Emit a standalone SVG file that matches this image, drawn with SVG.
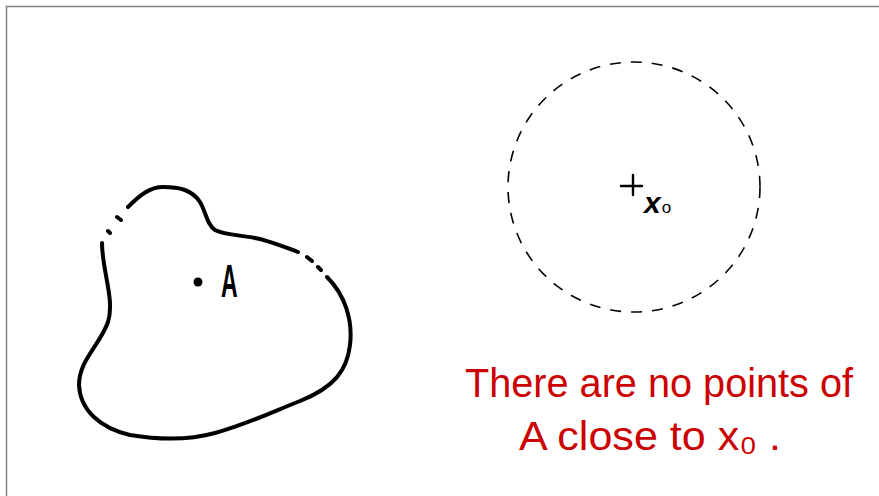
<svg xmlns="http://www.w3.org/2000/svg" width="879" height="496" viewBox="0 0 879 496">
<style>
.frame{fill:none;stroke:#808080;stroke-width:1.5}
.blob{fill:none;stroke:#000;stroke-width:4;stroke-linecap:round;stroke-linejoin:round}
.ball{fill:none;stroke:#000;stroke-width:1.6;stroke-dasharray:11 10}
.ink{font-family:"Liberation Sans","DejaVu Sans",sans-serif;fill:#000}
.note{font-family:"Liberation Sans","DejaVu Sans",sans-serif;fill:#cc0000;font-size:40px}
</style>
<rect width="879" height="496" fill="#fff"/>
<path class="frame" d="M6.5,496 V6.5 H879"/>
<g id="setA">
<path class="blob" d="M128,207 C140,195 150,187 163,187 C180,187 192,190 200,202 C206,212 207,225 215,230 C225,235 240,235 255,238 C270,241 285,247 298,252"/>
<path class="blob" d="M327,277 C345,295 353,320 350,345 C347,370 335,387 300,401 C270,413 245,425 215,433 C190,440 160,440 130,435 C100,428 80,410 79,385 C79,360 100,345 108,322 C115,300 102,270 102,243"/>
<path class="blob" d="M117,217 L121,220 M108,231 L110,233 M307,257 L312,261 M318,267 L321,270"/>
<circle cx="198" cy="282" r="4.5" fill="#000"/>
<text class="ink" x="221" y="297" font-size="46" font-weight="bold" transform="translate(221 0) scale(0.5 1) translate(-221 0)">A</text>
</g>
<g id="ballX0">
<ellipse class="ball" cx="634" cy="187" rx="126" ry="125"/>
<path d="M621,186 H642 M633,175 V195" stroke="#000" stroke-width="2.4" stroke-linecap="round" fill="none"/>
<text class="ink" x="644" y="213" font-size="30" font-style="italic" font-weight="bold">x<tspan font-size="17" dx="1" font-style="normal" font-weight="normal">o</tspan></text>
</g>
<g id="note">
<text class="note" x="465" y="397" textLength="388" lengthAdjust="spacingAndGlyphs">There are no points of</text>
<text class="note" x="519" y="450" textLength="262" lengthAdjust="spacingAndGlyphs">A close to x₀ .</text>
</g>
</svg>
